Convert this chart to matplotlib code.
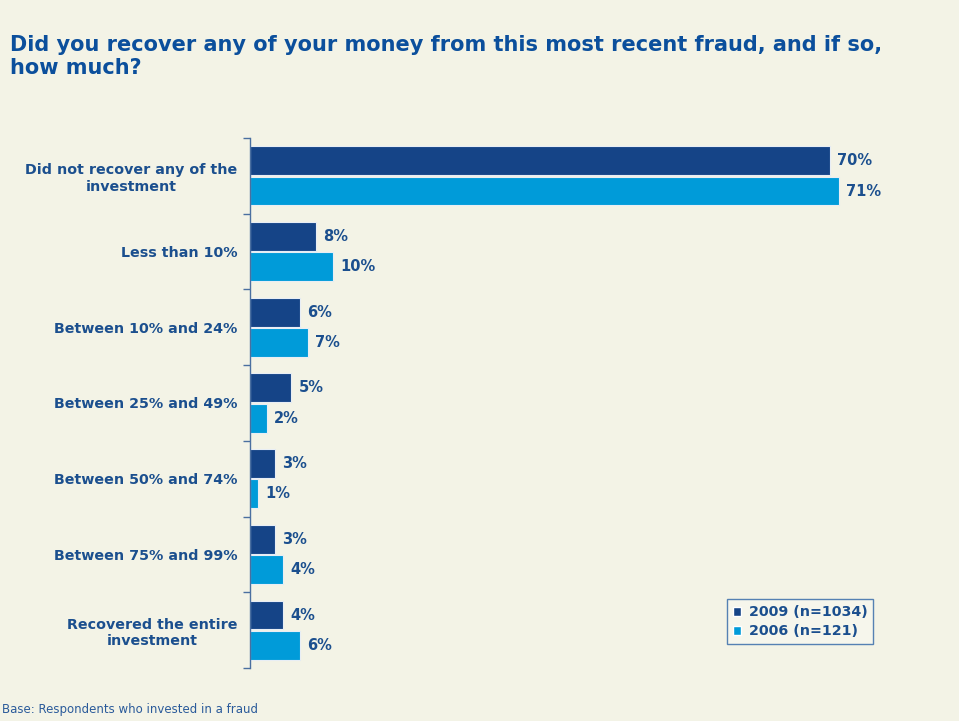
import matplotlib.pyplot as plt
import numpy as np
from matplotlib.patches import Patch

categories = [
    "Did not recover any of the\ninvestment",
    "Less than 10%",
    "Between 10% and 24%",
    "Between 25% and 49%",
    "Between 50% and 74%",
    "Between 75% and 99%",
    "Recovered the entire\ninvestment",
]
vals_2009 = [70, 8, 6, 5, 3, 3, 4]
vals_2006 = [71, 10, 7, 2, 1, 4, 6]
series_names = ["2009 (n=1034)", "2006 (n=121)"]

BG = "#f3f3e6"
DARK = "#154487"
LIGHT = "#009bd9"
TXT = "#1b4f8e"
TITLE = "#0b4f9c"

fig = plt.figure(figsize=(9.59, 7.21), dpi=100)
fig.patch.set_facecolor(BG)
ax = fig.add_axes([250 / 959, 1 - 668 / 721, 680 / 959, 530 / 721])
ax.set_facecolor(BG)

y = np.arange(len(categories))
h = 0.38
ax.barh(y - 0.2, vals_2009, height=h, color=DARK, edgecolor="#e8eef5", linewidth=0.8)
ax.barh(y + 0.2, vals_2006, height=h, color=LIGHT, edgecolor="#e8eef5", linewidth=0.8)

for yi, v in zip(y, vals_2009):
    ax.annotate(f"{v}%", (v, yi - 0.2), xytext=(5, 0), textcoords="offset points",
                va="center", ha="left", fontsize=10.5, fontweight="bold", color=TXT)
for yi, v in zip(y, vals_2006):
    ax.annotate(f"{v}%", (v, yi + 0.2), xytext=(5, 0), textcoords="offset points",
                va="center", ha="left", fontsize=10.5, fontweight="bold", color=TXT)

ax.set_xlim(0, 82)
ax.set_ylim(len(categories) - 0.5, -0.5)
ax.set_yticks(y)
ax.set_yticklabels(categories, fontsize=10.3, fontweight="bold", color=TXT,
                   multialignment="center")
ax.tick_params(axis="y", which="major", length=0, pad=9)
ax.set_yticks(np.arange(-0.5, len(categories)), minor=True)
ax.tick_params(axis="y", which="minor", length=5, color="#4a6fa0", width=1)
ax.set_xticks([])
for s in ["top", "right", "bottom"]:
    ax.spines[s].set_visible(False)
ax.spines["left"].set_color("#4a6fa0")
ax.spines["left"].set_linewidth(1)

handles = [Patch(facecolor=DARK, edgecolor="white"), Patch(facecolor=LIGHT, edgecolor="white")]
leg = fig.legend(handles, series_names, loc="lower left", bbox_to_anchor=(720 / 959, 1 - 651 / 721),
                 frameon=True, fancybox=False, handlelength=0.6, handleheight=0.6,
                 handletextpad=0.5, borderpad=0.4, labelspacing=0.35,
                 prop={"size": 10.3, "weight": "bold"})
leg.get_frame().set_edgecolor("#2d64a6")
leg.get_frame().set_facecolor("#f7f7ee")
leg.get_frame().set_linewidth(1)
for t in leg.get_texts():
    t.set_color(TXT)

fig.text(10 / 959, 1 - 35 / 721,
         "Did you recover any of your money from this most recent fraud, and if so,\nhow much?",
         ha="left", va="top", fontsize=15, fontweight="bold", color=TITLE, linespacing=1.2)
fig.text(2 / 959, 1 - 709 / 721, "Base: Respondents who invested in a fraud",
         ha="left", va="center", fontsize=8.5, color="#2a5a9a")

fig.savefig("out.png", dpi=100, facecolor=fig.get_facecolor())
